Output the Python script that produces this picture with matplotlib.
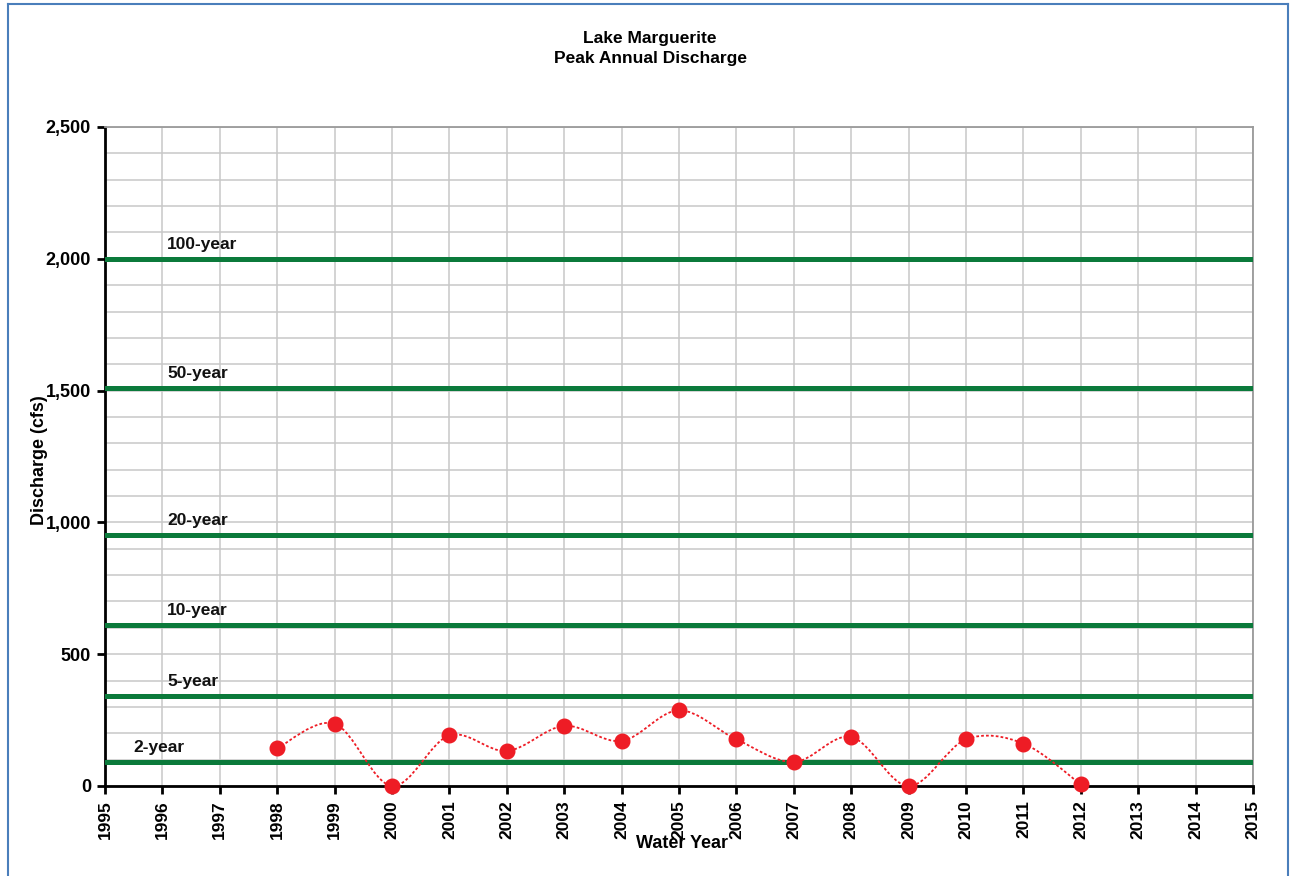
import matplotlib
matplotlib.use("Agg")
import matplotlib.pyplot as plt
from matplotlib.path import Path
from matplotlib.patches import PathPatch
from matplotlib.lines import Line2D
import numpy as np

plt.rcParams['font.family'] = ['Liberation Sans', 'DejaVu Sans']

# ---------------- data ----------------
years = [1998, 1999, 2000, 2001, 2002, 2003, 2004, 2005, 2006, 2007, 2008, 2009, 2010, 2011, 2012]
peak_discharge = [143, 236, 0, 192, 133, 228, 171, 287, 177, 91, 186, 0, 177, 161, 6]

return_periods = ["100-year", "50-year", "20-year", "10-year", "5-year", "2-year"]
return_discharge = [2000, 1510, 953, 611, 343, 92]
label_years = [1996.08, 1996.08, 1996.08, 1996.08, 1996.08, 1995.49]

x_ticks = list(range(1995, 2016))
y_ticks = [0, 500, 1000, 1500, 2000, 2500]
y_tick_labels = ["0", "500", "1,000", "1,500", "2,000", "2,500"]

title_lines = ["Lake Marguerite", "Peak Annual Discharge"]
x_label = "Water Year"
y_label = "Discharge (cfs)"

# ---------------- figure ----------------
W, H = 1291, 876
fig = plt.figure(figsize=(W / 100, H / 100), dpi=100)
fig.patch.set_facecolor("white")

# blue chart border
bc = "#4a7ebb"
fig.add_artist(Line2D([8 / W, 1288 / W], [1 - 4 / H, 1 - 4 / H], transform=fig.transFigure, color=bc, lw=1.5))
fig.add_artist(Line2D([8 / W, 8 / W], [0, 1 - 4 / H], transform=fig.transFigure, color=bc, lw=1.5))
fig.add_artist(Line2D([1288 / W, 1288 / W], [0, 1 - 4 / H], transform=fig.transFigure, color=bc, lw=1.5))

left, right, top, bottom = 105, 1253, 127, 786
ax = fig.add_axes([left / W, 1 - bottom / H, (right - left) / W, (bottom - top) / H])
ax.set_xlim(1995, 2015)
ax.set_ylim(0, 2500)

# grid
grid_c = "#c8c8c8"
ax.set_xticks(x_ticks)
ax.set_yticks(y_ticks)
ax.set_yticks(np.arange(0, 2501, 100), minor=True)
ax.grid(True, which="both", color=grid_c, lw=1.1, zorder=0)
ax.set_axisbelow(True)

ax.set_xticklabels([str(y) for y in x_ticks], rotation=90, fontsize=12.5, fontweight="bold")
ax.set_yticklabels(y_tick_labels, fontsize=13, fontweight="bold")
ax.tick_params(axis="both", which="major", direction="out", length=6, width=2, color="black", pad=4)
ax.tick_params(axis="y", which="minor", length=0)

for s in ["left", "bottom"]:
    ax.spines[s].set_color("black")
    ax.spines[s].set_linewidth(2)
for s in ["top", "right"]:
    ax.spines[s].set_color("#9a9a9a")
    ax.spines[s].set_linewidth(1.3)

# return-period lines
green = "#0b7a3b"
for name, q, lx in zip(return_periods, return_discharge, label_years):
    ax.axhline(q, color=green, lw=3.6, zorder=3)
    ax.annotate(name, xy=(lx, q), xytext=(0, 10.5), textcoords="offset points",
                ha="left", va="center", fontsize=12.5, fontweight="bold", color="#111111", zorder=4)

# smoothed (Catmull-Rom / Bezier) dotted line through the data points
xs = np.asarray(years, dtype=float)
ys = np.asarray(peak_discharge, dtype=float)
pts = np.column_stack([xs, ys])
n = len(pts)
verts = [pts[0]]
codes = [Path.MOVETO]
for i in range(n - 1):
    p0 = pts[i - 1] if i > 0 else pts[i]
    p1 = pts[i]
    p2 = pts[i + 1]
    p3 = pts[i + 2] if i + 2 < n else pts[i + 1]
    c1 = p1 + (p2 - p0) / 6.0
    c2 = p2 - (p3 - p1) / 6.0
    verts += [c1, c2, p2]
    codes += [Path.CURVE4] * 3
red = "#ee1c25"
patch = PathPatch(Path(verts, codes), facecolor="none", edgecolor=red, lw=1.3,
                  linestyle=(0, (1.5, 1.2)), zorder=5, clip_on=False)
ax.add_patch(patch)
ax.plot(years, peak_discharge, linestyle="none", marker="o", markersize=10.5,
        color=red, markeredgecolor=red, zorder=6, clip_on=False)

# titles and axis labels
fig.text(650 / W, 1 - 38 / H, title_lines[0], ha="center", va="center", fontsize=12.5, fontweight="bold")
fig.text(650 / W, 1 - 59 / H, title_lines[1], ha="center", va="center", fontsize=12.5, fontweight="bold")
fig.text(682 / W, 1 - 844 / H, x_label, ha="center", va="center", fontsize=13, fontweight="bold")
fig.text(40 / W, 1 - 460 / H, y_label, ha="center", va="center", rotation=90, fontsize=13, fontweight="bold")

fig.savefig("out.png", dpi=100)
